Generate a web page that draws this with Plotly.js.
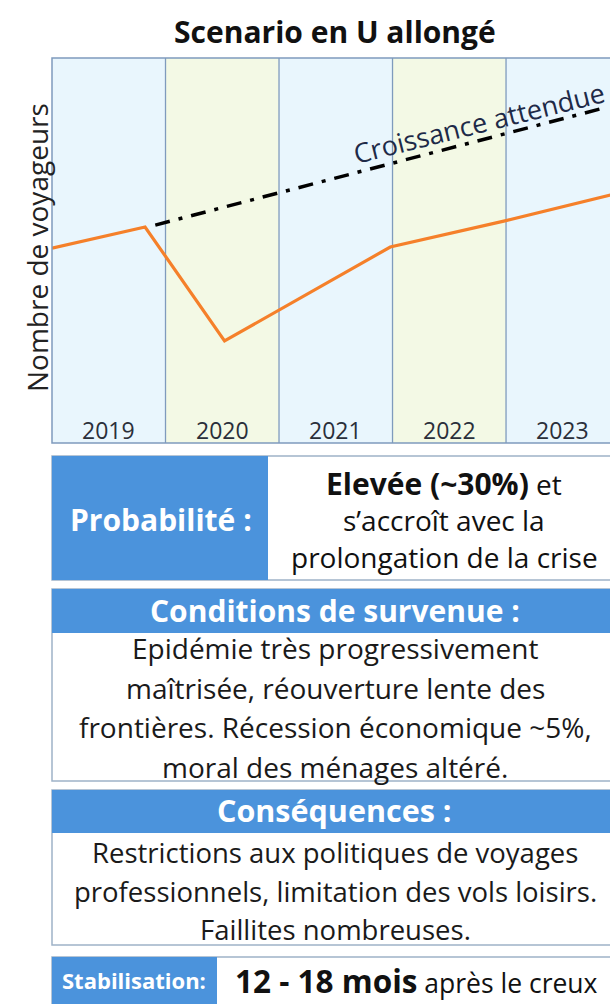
<!DOCTYPE html>
<html><head><meta charset="utf-8">
<script src="https://cdn.plot.ly/plotly-3.0.1.min.js"></script>
<style>html,body{margin:0;padding:0;background:#fff;}</style>
</head><body>
<div id="chart" style="width:610px;height:1004px;"></div>
<script>
// ---- data ----
const years = ['2019','2020','2021','2022','2023'];
const actualX = [0, 0.82, 1.52, 2.98, 3.99, 4.92];
const actualY = [50.6, 56.1, 26.5, 50.9, 57.7, 64.4];
const expectedX = [0.91, 4.86];
const expectedY = [56.6, 87.0];
const chartTitle = 'Scenario en U allongé';
const yTitle = 'Nombre de voyageurs';
const trendLabel = 'Croissance attendue';
const probLabel = 'Probabilité :';
const probBold = 'Elevée (~30%)';
const probLines = [' et', 's’accroît avec la', 'prolongation de la crise'];
const condLabel = 'Conditions de survenue :';
const condLines = ['Epidémie très progressivement', 'maîtrisée, réouverture lente des', 'frontières. Récession économique ~5%,', 'moral des ménages altéré.'];
const consLabel = 'Conséquences :';
const consLines = ['Restrictions aux politiques de voyages', 'professionnels, limitation des vols loisirs.', 'Faillites nombreuses.'];
const stabLabel = 'Stabilisation:';
const stabBold = '12 - 18 mois';
const stabText = ' après le creux';

// ---- layout helpers (pixel -> paper) ----
const L = 52, R = 610, T = 58, B = 443, W = 610, H = 1004;
const px = x => (x - L) / (R - L);
const py = y => (B - y) / (B - T);
const FONT = '"Open Sans", "Noto Sans", sans-serif';
const BLUE = '#4b93dc';
const EDGE = '#9fb3c8';
const COLBG = ['#e9f6fd', '#f3f9e5'];

const shapes = [];
const annotations = [];

// column backgrounds and separators
years.forEach((yr, i) => {
  shapes.push({type:'rect', xref:'x', yref:'paper', x0:i, x1:i+1, y0:0, y1:1,
    fillcolor: COLBG[i % 2], line:{width:0}, layer:'below'});
  if (i > 0) shapes.push({type:'line', xref:'x', yref:'paper', x0:i, x1:i, y0:0, y1:1,
    line:{color:'#7f9bbd', width:1.3}, layer:'below'});
  annotations.push({xref:'x', yref:'paper', x:i+0.5, y:py(430), text:yr, showarrow:false,
    font:{family:FONT, size:23, color:'#2a2f3a'}, yanchor:'middle'});
});
// plot frame
shapes.push({type:'rect', xref:'paper', yref:'paper', x0:0, x1:1.05, y0:0, y1:1,
  line:{color:'#7f9bbd', width:1.5}, layer:'above'});

// title, axis title, trend label
annotations.push({xref:'paper', yref:'paper', x:px(335), y:py(31), text:'<b>'+chartTitle+'</b>',
  showarrow:false, font:{family:FONT, size:30, color:'#111'}, yanchor:'middle'});
annotations.push({xref:'paper', yref:'paper', x:px(37), y:py(248), text:yTitle, textangle:-90,
  showarrow:false, font:{family:FONT, size:28, color:'#222'}, xanchor:'center', yanchor:'middle'});
annotations.push({xref:'paper', yref:'paper', x:px(479), y:py(122), text:trendLabel, textangle:-14,
  showarrow:false, font:{family:FONT, size:27, color:'#1e2a48'}, xanchor:'center', yanchor:'middle'});

// boxes
function rect(x0, y0, x1, y1, fill, lw) {
  shapes.push({type:'rect', xref:'paper', yref:'paper', x0:px(x0), x1:px(x1), y0:py(y1), y1:py(y0),
    fillcolor:fill, line:{color:EDGE, width:lw === undefined ? 1.5 : lw}});
}
function txt(x, y, t, size, color, bold, anchor) {
  annotations.push({xref:'paper', yref:'paper', x:px(x), y:py(y), text: bold ? '<b>'+t+'</b>' : t,
    showarrow:false, font:{family:FONT, size:size, color:color}, xanchor:anchor || 'center', yanchor:'middle'});
}
// Probabilité
rect(52, 456, 640, 580, '#ffffff');
rect(52, 456, 268, 580, BLUE, 0);
txt(161, 519, probLabel, 30, '#ffffff', true);
txt(444, 483, '<span style="font-size:30px"><b>'+probBold+'</b></span>'+probLines[0], 28, '#111');
txt(444, 520, probLines[1], 28, '#111');
txt(444, 557, probLines[2], 28, '#111');
// Conditions
rect(52, 589, 640, 781, '#ffffff');
rect(52, 589, 640, 633, BLUE, 0);
txt(335, 610, condLabel, 30, '#ffffff', true);
condLines.forEach((l, i) => txt(335, 648 + i*39.5, l, 28, '#1a1a1a'));
// Conséquences
rect(52, 790, 640, 945, '#ffffff');
rect(52, 790, 640, 833, BLUE, 0);
txt(334, 810, consLabel, 30.5, '#ffffff', true);
consLines.forEach((l, i) => txt(335, 853 + i*38, l, 27.5, '#1a1a1a'));
// Stabilisation
rect(52, 957, 640, 1010, '#ffffff');
rect(52, 957, 217, 1010, BLUE, 0);
txt(134, 980, stabLabel, 22, '#ffffff', true);
txt(233, 980, '<span style="font-size:31.5px"><b>'+stabBold+'</b></span>'+stabText, 26.5, '#111', false, 'left');

const traces = [
  {x: expectedX, y: expectedY, mode:'lines', line:{color:'#000', width:3.5, dash:'15px,9px,4px,9px'}, hoverinfo:'skip'},
  {x: actualX, y: actualY, mode:'lines', line:{color:'#f5802a', width:3.2}, hoverinfo:'skip'}
];

const layout = {
  width: W, height: H,
  margin: {l: L, r: W - R, t: T, b: H - B},
  paper_bgcolor: '#fff', plot_bgcolor: 'rgba(0,0,0,0)',
  showlegend: false,
  xaxis: {range:[0, 4.916], showgrid:false, zeroline:false, showticklabels:false, ticks:'', showline:false, fixedrange:true},
  yaxis: {range:[0, 100], showgrid:false, zeroline:false, showticklabels:false, ticks:'', showline:false, fixedrange:true},
  shapes: shapes,
  annotations: annotations
};
Plotly.newPlot('chart', traces, layout, {displayModeBar:false, staticPlot:true});
</script>
</body></html>
